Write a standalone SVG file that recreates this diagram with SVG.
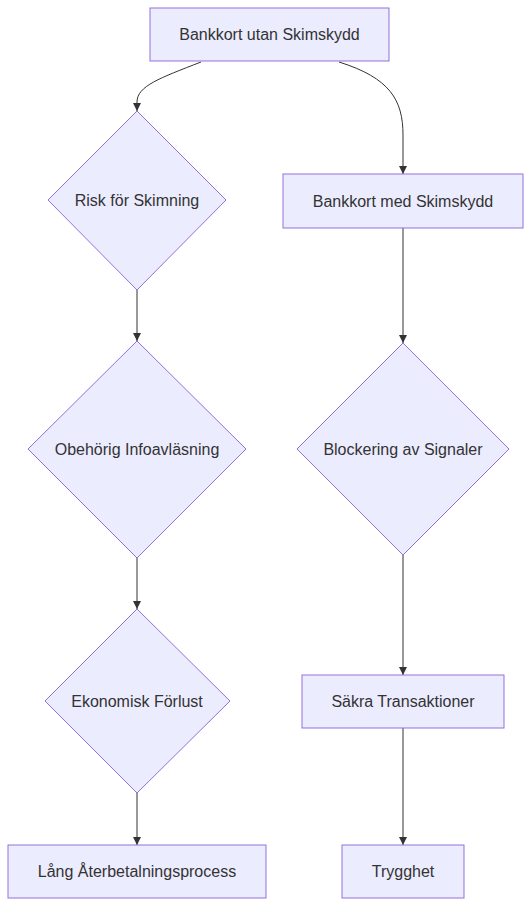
<svg xmlns="http://www.w3.org/2000/svg" width="531" height="907" viewBox="0 0 531 907">
<style>
.n{fill:#ECECFF;stroke:#9370DB;stroke-width:1}
.t{font-family:"Liberation Sans",Arial,sans-serif;font-size:16px;fill:#333;text-anchor:middle;dominant-baseline:central}
.e{fill:none;stroke:#333;stroke-width:1}
</style>
<defs>
<marker id="a" viewBox="0 0 10 10" refX="10" refY="5" markerWidth="8" markerHeight="8" markerUnits="userSpaceOnUse" orient="auto">
<path d="M0,0 L10,5 L0,10 z" fill="#333"/>
</marker>
</defs>
<rect width="531" height="907" fill="#fff"/>
<g id="edges">
<path class="e" d="M201,62 C160,78 137,86 137,102 L137,111" marker-end="url(#a)"/>
<path class="e" d="M339,62 C390,78 403,100 403,135 L403,174" marker-end="url(#a)"/>
<path class="e" d="M137,290 L137,341" marker-end="url(#a)"/>
<path class="e" d="M137,558 L137,609" marker-end="url(#a)"/>
<path class="e" d="M137,793 L137,845" marker-end="url(#a)"/>
<path class="e" d="M403,228 L403,343" marker-end="url(#a)"/>
<path class="e" d="M403,555 L403,675" marker-end="url(#a)"/>
<path class="e" d="M403,728 L403,845" marker-end="url(#a)"/>
</g>
<g id="n1"><rect class="n" x="150" y="8" width="239" height="53"/><text class="t" x="269.5" y="34.5">Bankkort utan Skimskydd</text></g>
<g id="n2"><polygon class="n" points="137,111 226,200 137,290 48,200"/><text class="t" x="137" y="200">Risk för Skimning</text></g>
<g id="n3"><polygon class="n" points="137,341 246,449 137,558 28,449"/><text class="t" x="137" y="449">Obehörig Infoavläsning</text></g>
<g id="n4"><polygon class="n" points="137,609 230,701 137,793 45,701"/><text class="t" x="137" y="701">Ekonomisk Förlust</text></g>
<g id="n5"><rect class="n" x="8" y="845" width="258" height="53"/><text class="t" x="137" y="871.5">Lång Återbetalningsprocess</text></g>
<g id="n6"><rect class="n" x="283" y="174" width="240" height="54"/><text class="t" x="403" y="201">Bankkort med Skimskydd</text></g>
<g id="n7"><polygon class="n" points="403,343 509,449 403,555 297,449"/><text class="t" x="403" y="449">Blockering av Signaler</text></g>
<g id="n8"><rect class="n" x="302" y="675" width="202" height="53"/><text class="t" x="403" y="701.5">Säkra Transaktioner</text></g>
<g id="n9"><rect class="n" x="342" y="845" width="122" height="53"/><text class="t" x="403" y="871.5">Trygghet</text></g>
</svg>
